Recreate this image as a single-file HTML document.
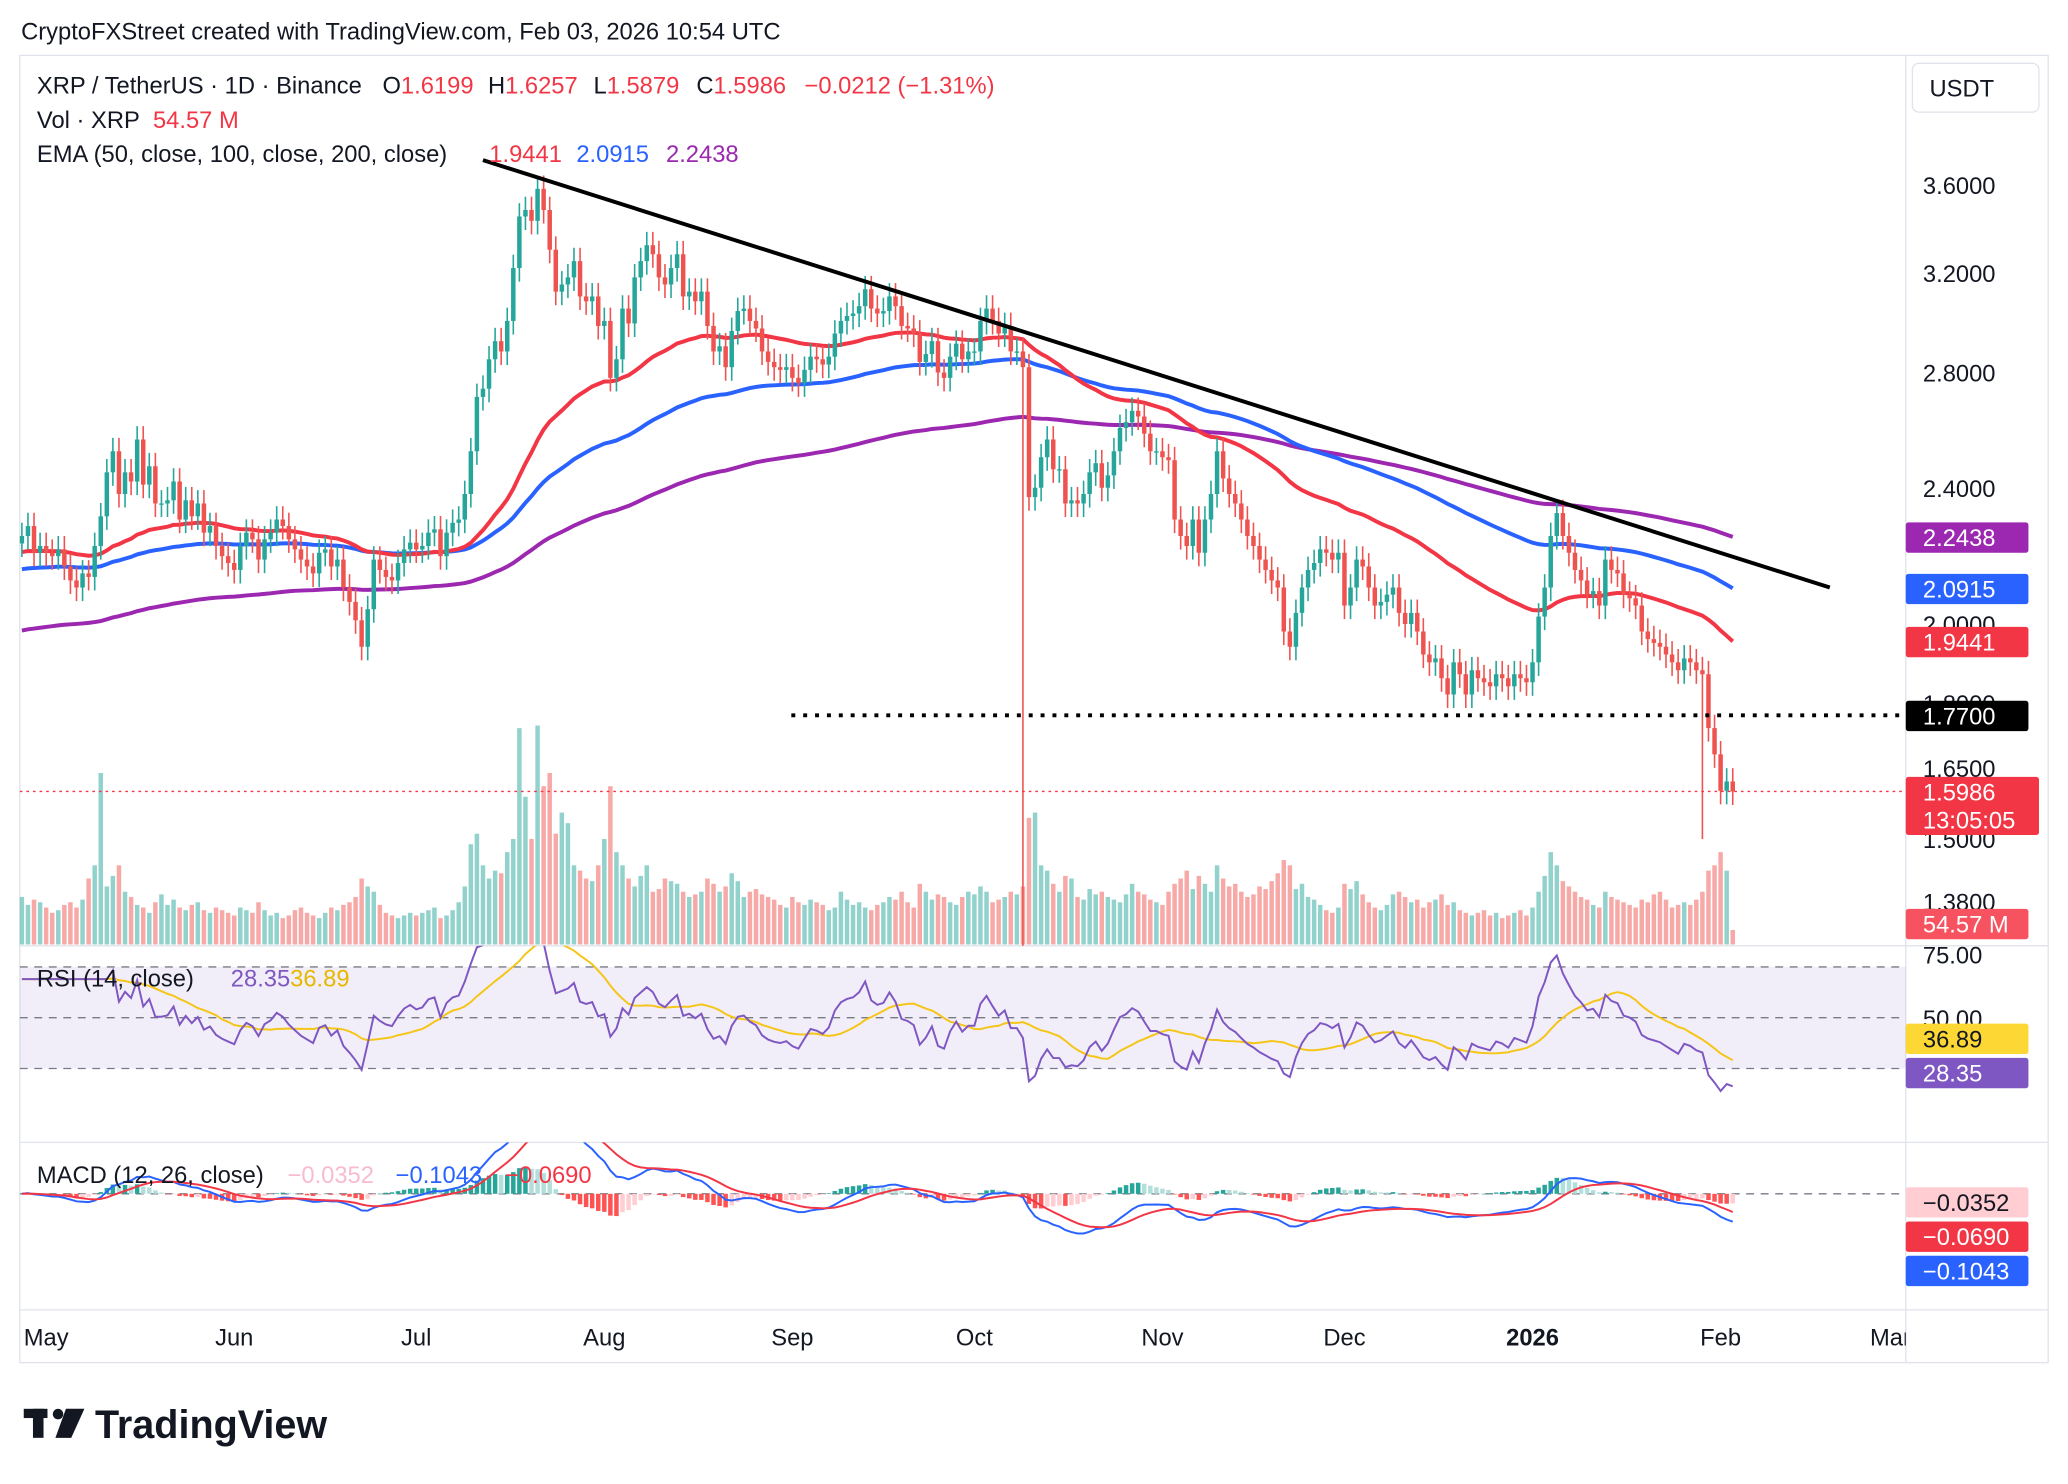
<!DOCTYPE html>
<html><head><meta charset="utf-8"><style>
html,body{margin:0;padding:0;background:#fff;}
svg{display:block;font-family:"Liberation Sans",sans-serif;}
</style></head><body>
<svg id="chart" width="2068" height="1484" viewBox="0 0 1568 1125" preserveAspectRatio="none" xmlns="http://www.w3.org/2000/svg">
<defs>
<clipPath id="cp"><rect x="15" y="42" width="1430" height="675"/></clipPath>
<clipPath id="cr"><rect x="15" y="717" width="1430" height="149"/></clipPath>
<clipPath id="cm"><rect x="15" y="866" width="1430" height="127"/></clipPath>
<clipPath id="cx"><rect x="15" y="993" width="1430" height="40"/></clipPath>
</defs>
<rect width="1568" height="1125" fill="#fff"/>
<text x="16" y="30" font-size="18" fill="#131722">CryptoFXStreet created with TradingView.com, Feb 03, 2026 10:54 UTC</text>
<g stroke="#e0e3eb" stroke-width="1" fill="none">
<rect x="15" y="42" width="1538" height="991"/>
<line x1="1445" y1="42" x2="1445" y2="1033"/>
<line x1="15" y1="717" x2="1553" y2="717"/>
<line x1="15" y1="866" x2="1553" y2="866"/>
<line x1="15" y1="993" x2="1553" y2="993"/>
</g>
<g id="vol" clip-path="url(#cp)"></g>
<g id="price" clip-path="url(#cp)"></g>
<g id="rsi" clip-path="url(#cr)"></g>
<g id="macd" clip-path="url(#cm)"></g>
<g id="xaxis" clip-path="url(#cx)"></g>
<g id="yaxis"></g>
<g font-size="18">
<text x="28" y="71" fill="#131722">XRP / TetherUS · 1D · Binance<tspan x="290">O</tspan><tspan fill="#f23645">1.6199</tspan><tspan x="370">H</tspan><tspan fill="#f23645">1.6257</tspan><tspan x="450">L</tspan><tspan fill="#f23645">1.5879</tspan><tspan x="528">C</tspan><tspan fill="#f23645">1.5986</tspan><tspan x="610" fill="#f23645">−0.0212 (−1.31%)</tspan></text>
<text x="28" y="97" fill="#131722">Vol · XRP<tspan x="116" fill="#f23645">54.57 M</tspan></text>
<text x="28" y="123" fill="#131722">EMA (50, close, 100, close, 200, close)<tspan x="371" fill="#f23645">1.9441</tspan><tspan x="437" fill="#2962ff">2.0915</tspan><tspan x="505" fill="#9c27b0">2.2438</tspan></text>
<text x="28" y="748" fill="#131722">RSI (14, close)<tspan x="175" fill="#7e57c2">28.35</tspan><tspan x="220" fill="#e6b800">36.89</tspan></text>
<text x="28" y="897" fill="#131722">MACD (12, 26, close)<tspan x="218" fill="#f8bbd0">−0.0352</tspan><tspan x="300" fill="#2962ff">−0.1043</tspan><tspan x="383" fill="#f23645">−0.0690</tspan></text>
</g>
<g>
<rect x="18" y="1068" width="18" height="7" fill="#131722"/>
<rect x="25" y="1068" width="8" height="22" fill="#131722"/>
<circle cx="44" cy="1072" r="4" fill="#131722"/>
<polygon points="50,1068 64,1068 54,1090 42,1090" fill="#131722"/>
<text x="72" y="1090" font-size="30" font-weight="bold" fill="#131722">TradingView</text>
</g>
</svg>
<script>
const months=["May","Jun","Jul","Aug","Sep","Oct","Nov","Dec","2026","Feb","Mar"];
const monthStartIdx=[4,35,65,96,127,157,188,218,249,280,308];
const priceTicks=[3.6,3.2,2.8,2.4,2.0,1.8,1.65,1.5,1.38];
const priceTickLabels=["3.6000","3.2000","2.8000","2.4000","2.0000","1.8000","1.6500","1.5000","1.3800"];
const closes=[2.25,2.28,2.20,2.22,
2.20,2.19,2.21,2.16,2.12,2.10,2.14,2.13,2.22,2.31,2.45,2.52,2.38,2.45,2.42,2.56,2.41,2.47,2.35,2.35,2.36,2.42,2.30,2.36,2.31,2.35,2.26,2.28,2.22,2.19,2.17,
2.15,2.22,2.26,2.24,2.18,2.24,2.26,2.30,2.28,2.24,2.21,2.18,2.16,2.14,2.20,2.21,2.16,2.18,2.10,2.06,2.01,1.94,2.04,2.18,2.15,2.13,2.12,2.17,2.21,2.23,
2.21,2.22,2.26,2.27,2.19,2.26,2.29,2.30,2.38,2.52,2.71,2.74,2.85,2.92,2.88,3.00,3.22,3.45,3.48,3.43,3.58,3.48,3.30,3.12,3.15,3.18,3.25,3.10,3.08,3.10,2.98,
3.00,2.78,2.85,3.05,2.99,3.18,3.25,3.32,3.28,3.18,3.15,3.22,3.28,3.10,3.12,3.08,3.12,2.98,2.88,2.90,2.82,2.96,3.04,3.05,3.00,2.97,2.88,2.84,2.82,2.81,2.82,
2.78,2.76,2.81,2.86,2.85,2.83,2.86,2.95,3.00,3.02,3.03,3.06,3.13,3.05,3.03,3.04,3.10,3.06,2.98,2.97,2.95,2.84,2.87,2.92,2.80,2.78,2.86,2.91,2.85,2.88,
2.88,3.00,3.05,3.00,2.95,2.98,2.88,2.88,2.82,2.37,2.40,2.50,2.56,2.46,2.46,2.35,2.36,2.35,2.38,2.45,2.48,2.40,2.44,2.52,2.60,2.62,2.66,2.64,2.58,2.52,2.52,
2.50,2.49,2.30,2.25,2.22,2.30,2.20,2.30,2.38,2.52,2.43,2.38,2.35,2.30,2.25,2.22,2.18,2.15,2.12,2.10,1.98,1.94,2.03,2.10,2.15,2.17,2.21,2.20,2.18,2.20,
2.05,2.10,2.18,2.16,2.10,2.05,2.06,2.08,2.10,2.03,2.00,2.03,1.98,1.92,1.90,1.91,1.86,1.82,1.90,1.87,1.82,1.88,1.86,1.85,1.84,1.87,1.86,1.84,1.87,1.86,1.85,
1.90,2.02,2.10,2.25,2.32,2.25,2.20,2.15,2.12,2.08,2.09,2.05,2.18,2.15,2.14,2.08,2.07,2.05,1.98,1.96,1.95,1.94,1.92,1.90,1.88,1.91,1.90,1.88,1.87,1.74,1.68,
1.60,1.62,1.5986];
const volumes=[180,150,170,160,
140,120,130,150,160,140,170,250,300,650,220,260,300,200,180,150,140,120,160,190,150,170,140,130,150,160,130,120,140,130,120,
110,140,130,120,160,130,110,120,100,110,130,140,120,110,100,120,140,130,150,160,180,250,220,200,150,120,110,100,110,120,
110,120,130,140,100,110,130,160,220,380,420,300,250,280,270,350,400,820,560,400,830,600,650,420,500,460,300,280,250,240,300,
400,600,350,300,250,220,260,300,200,210,250,240,230,200,180,190,200,250,230,200,220,270,240,180,200,210,190,180,170,150,140,
180,160,150,170,160,150,130,140,200,170,150,160,140,130,150,160,180,170,200,160,140,230,200,170,190,180,160,150,180,200,
190,220,200,160,170,180,200,190,220,480,500,300,280,230,200,260,250,180,170,210,190,200,180,170,160,190,230,200,190,170,160,
150,200,230,250,280,210,260,230,200,300,250,220,230,200,180,190,220,210,240,270,320,300,210,230,180,170,150,130,120,140,
230,210,240,190,160,140,130,150,190,200,180,160,170,140,160,170,190,150,160,130,120,110,120,130,110,120,100,110,120,130,110,
140,200,260,350,300,240,220,200,180,170,150,140,200,180,170,160,150,140,170,160,190,200,170,140,150,160,150,170,200,280,300,
350,280,55];
const wickLowIdx=[165,277];
const wickLowVal=[1.25,1.50];
const trendStartIdx=76, trendStartPrice=3.72, trendEndIdx=298, trendEndPrice=2.10;
const supportPrice=1.77;

const NS="http://www.w3.org/2000/svg";
function mk(parent,tag,attrs){const e=document.createElementNS(NS,tag);for(const k in attrs)e.setAttribute(k,attrs[k]);parent.appendChild(e);return e;}
const xD=i=>35+(i-4)*4.6;
const yP=p=>140+(Math.log(3.6)-Math.log(p))*566.6;
const yR=v=>771.5-(v-50)*1.925;
const yM=v=>905-v*200;
const yV=v=>716-v*0.2;
const G='#26a69a',R='#ef5350';
const price=document.getElementById('price'),vol=document.getElementById('vol'),rsiG=document.getElementById('rsi'),macdG=document.getElementById('macd'),xax=document.getElementById('xaxis'),yax=document.getElementById('yaxis');
const n=closes.length;
const opens=closes.map((c,i)=>i?closes[i-1]:c*0.99);

for(let i=0;i<n;i++){
  const up=closes[i]>=opens[i];
  const b=mk(vol,'rect',{x:xD(i)-1.7,y:yV(volumes[i]),width:3.4,height:716-yV(volumes[i]),fill:up?'rgba(38,166,154,0.5)':'rgba(239,83,80,0.5)'});
  
  
}
function ema(arr,p,seed){const k=2/(p+1);let e=seed;return arr.map(v=>e=v*k+e*(1-k));}
const e50=ema(closes,50,2.2),e100=ema(closes,100,2.15),e200=ema(closes,200,1.98);
function line(g,vals,yf,color,w,name){const d=vals.map((v,i)=>(i?'L':'M')+xD(i).toFixed(1)+','+yf(v).toFixed(1)).join('');const p=mk(g,'path',{d:d,fill:'none',stroke:color,'stroke-width':w});return p;}
line(price,e200,yP,'#9c27b0',3,'ema-200-line');
line(price,e100,yP,'#2962ff',3,'ema-100-line');
line(price,e50,yP,'#f23645',3,'ema-50-line');
for(let i=0;i<n;i++){
  const o=opens[i],c=closes[i],up=c>=o;const col=up?G:R;
  let hi=Math.max(o,c)*1.018,lo=Math.min(o,c)*0.982;
  const wi=wickLowIdx.indexOf(i);if(wi>=0)lo=wickLowVal[wi];
  const w=mk(price,'line',{x1:xD(i),x2:xD(i),y1:yP(hi),y2:yP(lo),stroke:col,'stroke-width':1.2});
  
  
  const t=Math.min(yP(o),yP(c)),h=Math.max(1,Math.abs(yP(o)-yP(c)));
  const b=mk(price,'rect',{x:xD(i)-1.7,y:t,width:3.4,height:h,fill:col});
  
  
}
const tl=mk(price,'line',{x1:xD(trendStartIdx),y1:yP(trendStartPrice),x2:xD(trendEndIdx),y2:yP(trendEndPrice),stroke:'#000','stroke-width':3});


const sl=mk(price,'line',{x1:600,y1:yP(supportPrice),x2:1445,y2:yP(supportPrice),stroke:'#000','stroke-width':3,'stroke-dasharray':'3,6'});


const lp=mk(price,'line',{x1:15,y1:yP(closes[n-1]),x2:1445,y2:yP(closes[n-1]),stroke:'#f23645','stroke-width':1,'stroke-dasharray':'2,3'});



priceTicks.forEach((p,k)=>{const t=mk(yax,'text',{x:1458,y:yP(p)+7,'font-size':18,fill:'#131722'});t.textContent=priceTickLabels[k];

});
const ub=mk(yax,'rect',{x:1450,y:48,width:96,height:37,rx:5,fill:'#fff',stroke:'#e0e3eb'});


const ut=mk(yax,'text',{x:1463,y:73,'font-size':18,fill:'#131722'});ut.textContent='USDT';


function badge(y,txt,bg,fg,name,h){const r=mk(yax,'rect',{x:1445,y:y-11,width:93,height:h||23,rx:2,fill:bg});const t=mk(yax,'text',{x:1458,y:y+7,'font-size':18,fill:fg});t.textContent=txt;return t;}
badge(yP(e200[n-1]),'2.2438','#9c27b0','#fff','ema-200-badge');
badge(yP(e100[n-1]),'2.0915','#2962ff','#fff','ema-100-badge');
badge(yP(e50[n-1]),'1.9441','#f23645','#fff','ema-50-badge');
badge(yP(supportPrice),'1.7700','#000','#fff','support-badge');
const lb=mk(yax,'rect',{x:1445,y:yP(closes[n-1])-11,width:101,height:44,rx:2,fill:'#f23645'});


const lt=mk(yax,'text',{x:1458,y:yP(closes[n-1])+7,'font-size':18,fill:'#fff'});lt.textContent='1.5986';
const ct=mk(yax,'text',{x:1458,y:yP(closes[n-1])+28,'font-size':18,fill:'#fff'});ct.textContent='13:05:05';
badge(700,'54.57 M','#f7525f','#fff','volume-badge');

const band=mk(rsiG,'rect',{x:15,y:yR(70),width:1430,height:yR(30)-yR(70),fill:'rgba(126,87,194,0.1)'});


[70,50,30].forEach(v=>{const l=mk(rsiG,'line',{x1:15,x2:1445,y1:yR(v),y2:yR(v),stroke:'#787b86','stroke-dasharray':'6,5'});

});
const rsi=[];let ag=0,al=0;
for(let i=1;i<=14;i++){const d=closes[i]-closes[i-1];if(d>0)ag+=d;else al-=d;}ag/=14;al/=14;
for(let i=0;i<n;i++){if(i>14){const d=closes[i]-closes[i-1];ag=(ag*13+Math.max(d,0))/14;al=(al*13+Math.max(-d,0))/14;}rsi.push(100-100/(1+ag/(al||1e-9)));}
const rsiMa=rsi.map((v,i)=>{const s=rsi.slice(Math.max(0,i-13),i+1);return s.reduce((a,b)=>a+b,0)/s.length;});
line(rsiG,rsiMa,yR,'#f5c518',1.5,'rsi-ma-line');
line(rsiG,rsi,yR,'#7e57c2',1.5,'rsi-line');
[[75,'75.00'],[50,'50.00']].forEach(a=>{const t=mk(yax,'text',{x:1458,y:yR(a[0])+7,'font-size':18,fill:'#131722'});t.textContent=a[1];

});
badge(787,'36.89','#fdd835','#131722','rsi-ma-badge');
badge(813,'28.35','#7e57c2','#fff','rsi-badge');

const f=ema(closes,12,closes[0]),s=ema(closes,26,closes[0]);
const macd=f.map((v,i)=>v-s[i]);const sig=ema(macd,9,0);
const zl=mk(macdG,'line',{x1:15,x2:1445,y1:yM(0),y2:yM(0),stroke:'#787b86','stroke-dasharray':'6,5'});


for(let i=0;i<n;i++){const h=macd[i]-sig[i],ph=i?macd[i-1]-sig[i-1]:0;
 const col=h>=0?(h>=ph?'#26a69a':'#b2dfdb'):(h<ph?'#ff5252':'#ffcdd2');
 const b=mk(macdG,'rect',{x:xD(i)-1.7,y:Math.min(yM(0),yM(h)),width:3.4,height:Math.max(0.5,Math.abs(yM(h)-yM(0))),fill:col});
 
 }
line(macdG,macd,yM,'#2962ff',1.5,'macd-line');
line(macdG,sig,yM,'#f23645',1.5,'signal-line');
badge(911,'−0.0352','#ffcdd2','#131722','macd-hist-badge');
badge(937,'−0.0690','#f23645','#fff','signal-badge');
badge(963,'−0.1043','#2962ff','#fff','macd-badge');

months.forEach((m,k)=>{const x=xD(monthStartIdx[k]);const t=mk(xax,'text',{x:x,y:1020,'font-size':18,'text-anchor':'middle',fill:'#131722','font-weight':m==='2026'?'bold':'normal'});t.textContent=m;

});
</script>
</body></html>
